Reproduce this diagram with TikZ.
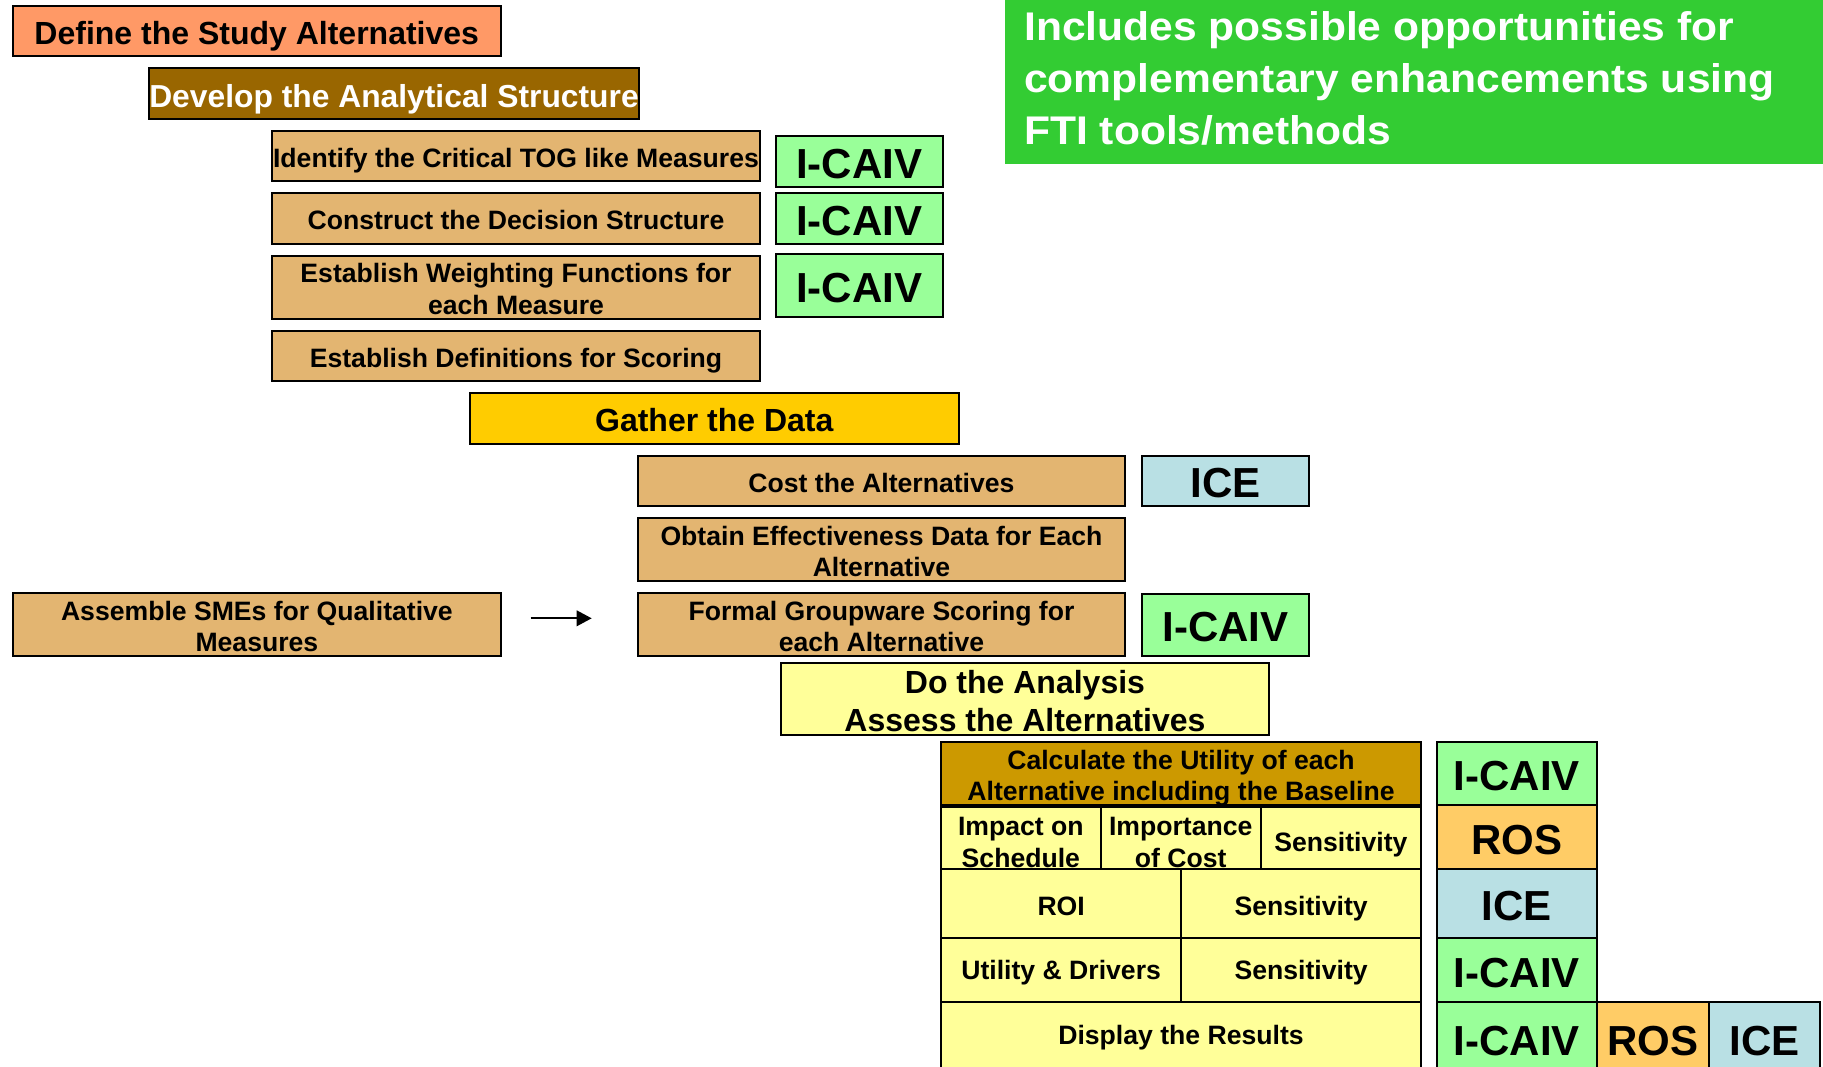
\documentclass[tikz,border=0pt]{standalone}
\usepackage{fontspec}
\setmainfont{Liberation Sans}
\newfontfamily\widesans[FakeStretch=1.065]{Liberation Sans}
\usetikzlibrary{arrows.meta}

\definecolor{defcol}{HTML}{FF9966}
\definecolor{devcol}{HTML}{996600}
\definecolor{tancol}{HTML}{E3B571}
\definecolor{gathercol}{HTML}{FFCC00}
\definecolor{palecol}{HTML}{FFFF99}
\definecolor{calccol}{HTML}{CC9900}
\definecolor{caivcol}{HTML}{99FF99}
\definecolor{roscol}{HTML}{FFCC66}
\definecolor{icecol}{HTML}{B9E0E4}
\definecolor{notecol}{HTML}{33CC33}

\tikzset{
  wh/.style 2 args={minimum width=#1pt, minimum height=#2pt},
  % text boxes sized on the capitals so that the lettering sits centred
  oneS/.style={text height=23pt, text depth=0pt},
  twoS/.style={text height=54.7pt, text depth=0pt},
  oneM/.style={text height=27pt, text depth=0pt},
  twoM/.style={text height=64.5pt, text depth=0pt},
  oneL/.style={text height=34pt, text depth=0pt},
  box/.style={draw=black, line width=2pt, inner sep=0pt, align=center, text=black,
    font=\bfseries\fontsize{26.6}{31.7}\selectfont, oneS},
  tanbox/.style={box, fill=tancol},
  cellbox/.style={box, fill=palecol},
  big/.style={font=\bfseries\fontsize{32}{37.5}\selectfont, oneM},
  toolbox/.style={box, font=\bfseries\fontsize{42}{50}\selectfont, oneL},
  caiv/.style={toolbox, fill=caivcol},
  ros/.style={toolbox, fill=roscol},
  ice/.style={toolbox, fill=icecol},
}

\begin{document}
\begin{tikzpicture}[x=1pt, y=-1pt]
\useasboundingbox (0,0) rectangle (1823,1066);
\clip (0,0) rectangle (1823,1066);

% note in the upper right corner
\node[fill=notecol, inner sep=0pt, anchor=north west, minimum width=830pt, minimum height=168.3pt] (note) at (1005,-5) {};
\node[anchor=west, inner sep=0pt, align=left, text=white,
  font=\widesans\bfseries\fontsize{40}{51.7}\selectfont] (notetext) at (1024,78.5)
  {Includes possible opportunities for\\complementary enhancements using\\FTI tools/methods};

% stage 1
\node[box, big, fill=defcol, wh={488.5}{50.3}] (define) at (256.75,30.85) {Define the Study Alternatives};

% stage 2
\node[box, big, fill=devcol, text=white, font=\bfseries\fontsize{31.8}{37}\selectfont, wh={488}{50.4}] (develop) at (394,93.5) {Develop the Analytical Structure};
\node[tanbox, wh={488}{50.3}] (identify) at (516,155.85) {Identify the Critical TOG like Measures};
\node[tanbox, wh={488}{50.7}] (construct) at (516,218.35) {Construct the Decision Structure};
\node[tanbox, twoS, wh={488}{63}] (weighting) at (516,287.2) {Establish Weighting Functions for\\each Measure};
\node[tanbox, wh={488}{50.3}] (definitions) at (516,355.85) {Establish Definitions for Scoring};
\node[caiv, wh={167.5}{50.7}] (caivA) at (859.25,161.35) {I-CAIV};
\node[caiv, wh={167.5}{50.7}] (caivB) at (859.25,218.65) {I-CAIV};
\node[caiv, wh={167.5}{63.3}] (caivC) at (859.25,285.65) {I-CAIV};

% stage 3
\node[box, big, fill=gathercol, wh={488.5}{51.3}] (gather) at (714.25,418.35) {Gather the Data};
\node[tanbox, wh={487}{50.3}] (cost) at (881.5,480.85) {Cost the Alternatives};
\node[ice, wh={167.3}{50.3}] (iceA) at (1225.35,480.85) {ICE};
\node[tanbox, twoS, wh={487}{63.6}] (obtain) at (881.5,549.5) {Obtain Effectiveness Data for Each\\Alternative};
\node[tanbox, twoS, wh={488.2}{63.3}] (assemble) at (256.9,624.35) {Assemble SMEs for Qualitative\\Measures};
\node[tanbox, twoS, wh={487}{63.3}] (formal) at (881.5,624.35) {Formal Groupware Scoring for\\each Alternative};
\node[caiv, wh={167.3}{61.7}] (caivD) at (1225.35,624.85) {I-CAIV};
\coordinate (arrowtail) at (530.7,618.3);
\coordinate (arrowhead) at (591.7,618.3);
\draw[line width=2pt, -{Triangle[length=15pt, width=15.5pt]}] (arrowtail) -- (arrowhead);

% stage 4
\node[cellbox, big, twoM, wh={488}{72.3}] (analysis) at (1025,698.85) {Do the Analysis\\Assess the Alternatives};
\node[box, twoS, fill=calccol, wh={480}{63}] (calc) at (1181,773.5) {Calculate the Utility of each\\Alternative including the Baseline};
\node[cellbox, text height=60.7pt, wh={159.7}{64.3}] (impact) at (1020.85,837.15) {Impact on\\Schedule};
\node[cellbox, text height=60.7pt, wh={160.1}{64.3}] (importance) at (1180.75,837.15) {Importance\\of Cost};
\node[cellbox, text height=28pt, wh={160.2}{64.3}] (sensA) at (1340.9,837.15) {Sensitivity};
\node[cellbox, wh={240.3}{68.4}] (roi) at (1061.15,903.5) {ROI};
\node[cellbox, wh={239.7}{68.4}] (sensB) at (1301.15,903.5) {Sensitivity};
\node[cellbox, text depth=4pt, wh={240.3}{64.6}] (util) at (1061.15,970) {Utility \& Drivers};
\node[cellbox, text depth=4pt, wh={239.7}{64.6}] (sensC) at (1301.15,970) {Sensitivity};
\node[cellbox, text depth=11pt, wh={480}{72.7}] (display) at (1181,1038.65) {Display the Results};
\draw[line width=3.5pt] (calc.south west) -- (calc.south east);

% tool column
\node[caiv, wh={160}{63}] (colA) at (1516.7,773.5) {I-CAIV};
\node[ros, wh={160}{64.3}] (colB) at (1516.7,837.15) {ROS};
\node[ice, wh={160}{68.4}] (colC) at (1516.7,903.5) {ICE};
\node[caiv, wh={160}{64.6}] (colD) at (1516.7,970) {I-CAIV};
\node[caiv, wh={160}{72.7}] (colE) at (1516.7,1038.65) {I-CAIV};
\node[ros, wh={112.6}{72.7}] (colF) at (1653,1038.65) {ROS};
\node[ice, wh={110.7}{72.7}] (colG) at (1764.65,1038.65) {ICE};
\end{tikzpicture}
\end{document}
